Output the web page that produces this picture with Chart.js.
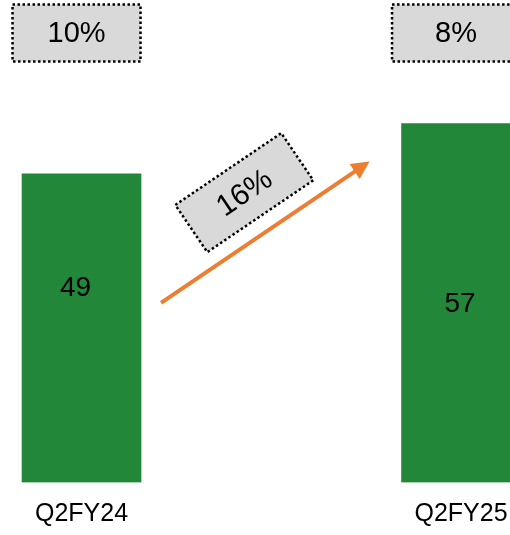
<!DOCTYPE html>
<html>
<head>
<meta charset="utf-8">
<script src="https://cdn.jsdelivr.net/npm/chart.js@4.4.1/dist/chart.umd.min.js"></script>
<style>
  html, body { margin: 0; padding: 0; background: #fff; overflow: hidden; }
  #wrap { width: 510px; height: 535px; position: relative; }
</style>
</head>
<body>
<div id="wrap"><canvas id="revChart"></canvas></div>
<script>
// quarters + revenue
const quarters = ['Q2FY24', 'Q2FY25'];
const revenue  = [49, 57];
const yoyGrowth = ['10%', '8%'];   // boxes above each bar
const periodGrowth = '16%';          // label on the arrow

const BAR_GREEN = '#23873a';
const ARROW_ORANGE = '#ed7d31';
const FONT = '"Liberation Sans", Arial, sans-serif';

function dottedBox(ctx, cx, cy, w, h) {
  ctx.save();
  ctx.fillStyle = '#d9d9d9';
  ctx.fillRect(cx - w / 2, cy - h / 2, w, h);
  ctx.strokeStyle = '#000';
  ctx.lineWidth = 2.5;
  ctx.setLineDash([2.5, 2.5]);
  ctx.strokeRect(cx - w / 2, cy - h / 2, w, h);
  ctx.restore();
}

const overlayPlugin = {
  id: 'overlay',
  afterDatasetsDraw(chart) {
    const ctx = chart.ctx;
    const bars = chart.getDatasetMeta(0).data;

    // value labels inside bars
    const dy = [-41, 0], dx = [-6, -1];
    ctx.save();
    ctx.fillStyle = '#000';
    ctx.font = '28px ' + FONT;
    ctx.textAlign = 'center';
    ctx.textBaseline = 'middle';
    bars.forEach((b, i) => {
      ctx.fillText(String(revenue[i]), b.x + dx[i], (b.y + b.base) / 2 + dy[i] + 1);
    });
    ctx.restore();

    // growth boxes on top
    bars.forEach((b, i) => {
      const cx = b.x - 5, cy = 33;
      dottedBox(ctx, cx, cy, 128, 57);
      ctx.save();
      ctx.fillStyle = '#000';
      ctx.font = '29px ' + FONT;
      ctx.textAlign = 'center';
      ctx.textBaseline = 'middle';
      ctx.fillText(yoyGrowth[i], cx, cy + 1);
      ctx.restore();
    });

    // arrow between bars
    const b1 = bars[0], b2 = bars[1];
    const x0 = b1.x + b1.width / 2 + 20, y0 = b1.y + 129;
    const x1 = b2.x - b2.width / 2 - 32, y1 = b2.y + 38;
    const ang = Math.atan2(y1 - y0, x1 - x0);
    const headLen = 18, headW = 9;
    ctx.save();
    ctx.strokeStyle = ARROW_ORANGE;
    ctx.fillStyle = ARROW_ORANGE;
    ctx.lineWidth = 4;
    ctx.beginPath();
    ctx.moveTo(x0, y0);
    ctx.lineTo(x1 - Math.cos(ang) * headLen * 0.8, y1 - Math.sin(ang) * headLen * 0.8);
    ctx.stroke();
    ctx.translate(x1, y1);
    ctx.rotate(ang);
    ctx.beginPath();
    ctx.moveTo(0, 0);
    ctx.lineTo(-headLen, -headW);
    ctx.lineTo(-headLen, headW);
    ctx.closePath();
    ctx.fill();
    ctx.restore();

    // rotated 16% box above the arrow
    const mx = (x0 + x1) / 2, my = (y0 + y1) / 2;
    const ux = Math.cos(ang), uy = Math.sin(ang);
    const nx = uy, ny = -ux;
    const cx = mx + 4.8 * ux + 44.5 * nx;
    const cy = my + 4.8 * uy + 44.5 * ny;
    ctx.save();
    ctx.translate(cx, cy);
    ctx.rotate(ang);
    dottedBox(ctx, 0, 0, 128, 57);
    ctx.fillStyle = '#000';
    ctx.font = '30px ' + FONT;
    ctx.textAlign = 'center';
    ctx.textBaseline = 'middle';
    ctx.fillText(periodGrowth, 0, 1);
    ctx.restore();
  }
};

const ctx = document.getElementById('revChart').getContext('2d');
new Chart(ctx, {
  type: 'bar',
  data: {
    datasets: [{
      data: revenue.map((v, i) => ({ x: i, y: v })),
      backgroundColor: BAR_GREEN,
      barThickness: 119
    }]
  },
  options: {
    responsive: true,
    maintainAspectRatio: false,
    animation: false,
    layout: { padding: 0 },
    plugins: { legend: { display: false }, tooltip: { enabled: false } },
    scales: {
      x: {
        type: 'linear',
        offset: false,
        min: -0.2148,
        max: 1.129,
        grid: { display: false, drawTicks: false, offset: false },
        border: { display: false },
        afterBuildTicks: (axis) => { axis.ticks = quarters.map((q, i) => ({ value: i })); },
        afterFit: (axis) => {
          axis.height = 52.5;
          axis.paddingLeft = 0;
          axis.paddingRight = 0;
        },
        ticks: {
          autoSkip: false,
          maxRotation: 0,
          padding: 16.5,
          color: '#000',
          font: { family: FONT, size: 25 },
          callback: (v) => quarters[v] || ''
        }
      },
      y: {
        display: false,
        min: 0,
        max: 76.6
      }
    }
  },
  plugins: [overlayPlugin]
});
</script>
</body>
</html>
